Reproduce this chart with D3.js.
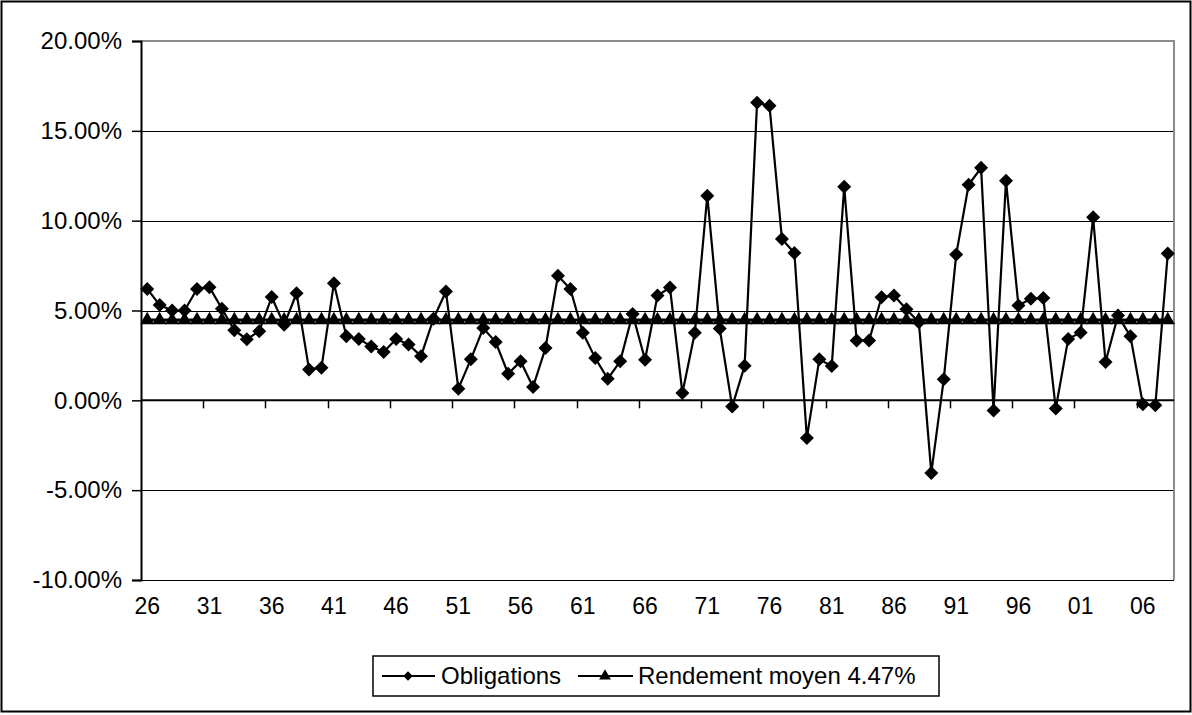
<!DOCTYPE html>
<html>
<head>
<meta charset="utf-8">
<script src="https://cdn.jsdelivr.net/npm/d3@7"></script>
<style>
  html, body { margin: 0; padding: 0; background: #fff; }
  svg { display: block; font-family: "Liberation Sans", Arial, sans-serif; }
</style>
</head>
<body>
<svg id="chart" width="1192" height="715"></svg>
<script>
// ---- Data (years 1926-2008) ----
const years = ["26","27","28","29","30","31","32","33","34","35","36","37","38","39","40","41","42","43","44","45",
  "46","47","48","49","50","51","52","53","54","55","56","57","58","59","60","61","62","63","64","65",
  "66","67","68","69","70","71","72","73","74","75","76","77","78","79","80","81","82","83","84","85",
  "86","87","88","89","90","91","92","93","94","95","96","97","98","99","00","01","02","03","04","05",
  "06","07","08"];
const obligations = [6.2,5.3,5.0,5.0,6.2,6.3,5.1,3.9,3.4,3.85,5.75,4.2,5.96,1.72,1.81,6.52,3.56,3.42,3.0,2.69,
  3.42,3.11,2.46,4.54,6.06,0.65,2.28,4.02,3.24,1.48,2.17,0.74,2.91,6.94,6.2,3.76,2.35,1.2,2.17,4.81,
  2.26,5.83,6.28,0.41,3.76,11.39,4.0,-0.35,1.92,16.57,16.39,8.98,8.2,-2.09,2.28,1.91,11.89,3.33,3.33,5.74,
  5.83,5.07,4.35,-4.04,1.17,8.11,12.0,12.94,-0.56,12.22,5.28,5.65,5.7,-0.46,3.42,3.77,10.19,2.13,4.72,3.56,
  -0.22,-0.28,8.17];
const meanReturn = 4.47;
const moyenne = years.map(() => meanReturn);
const yTicks = [-10, -5, 0, 5, 10, 15, 20];
const xLabelEvery = 5;
const seriesNames = ["Obligations", "Rendement moyen 4.47%"];

// ---- Layout ----
const svg = d3.select("#chart");
const W = 1192, H = 715;
const plot = { left: 141, right: 1174, top: 41, bottom: 580 };
const FONT = 23;

svg.append("rect").attr("x", 1.5).attr("y", 1.5).attr("width", W - 3).attr("height", H - 5)
  .attr("fill", "#fff").attr("stroke", "#000").attr("stroke-width", 2);

const x = d3.scaleBand().domain(years).range([plot.left, plot.right]).paddingInner(0).paddingOuter(0);
const y = d3.scaleLinear().domain([-10, 20]).range([plot.bottom, plot.top]);
const cx = d => x(d) + x.bandwidth() / 2;

// gridlines
svg.append("g").selectAll("line").data(yTicks.filter(t => t < 20)).join("line")
  .attr("x1", plot.left).attr("x2", plot.right)
  .attr("y1", d => Math.round(y(d)) + 0.5).attr("y2", d => Math.round(y(d)) + 0.5)
  .attr("stroke", "#000").attr("stroke-width", 1);

// plot border top/right (gray)
svg.append("path")
  .attr("d", `M${plot.left},${plot.top} H${plot.right} V${plot.bottom}`)
  .attr("fill", "none").attr("stroke", "#8c8c8c").attr("stroke-width", 2);

// y axis
const fmt = d => d.toFixed(2) + "%";
const yAxis = d3.axisLeft(y).tickValues(yTicks).tickSize(9).tickPadding(10).tickFormat(fmt);
const gy = svg.append("g").attr("transform", `translate(${plot.left},0)`).call(yAxis);
gy.select(".domain").attr("stroke", "#000").attr("stroke-width", 2);
gy.selectAll(".tick line").attr("stroke", "#000").attr("stroke-width", 1.5);
gy.selectAll("text").attr("font-size", FONT + 1).attr("fill", "#000")
  .attr("font-family", "Liberation Sans, Arial, sans-serif");

// x axis at 0%
const boundaries = years.filter((d, i) => i > 0 && i % xLabelEvery === 0);
const gx = svg.append("g");
gx.append("line").attr("x1", plot.left).attr("x2", plot.right)
  .attr("y1", y(0)).attr("y2", y(0)).attr("stroke", "#000").attr("stroke-width", 2);
gx.selectAll("line.tk").data(boundaries).join("line").attr("class", "tk")
  .attr("x1", d => Math.round(x(d)) + 0.5).attr("x2", d => Math.round(x(d)) + 0.5)
  .attr("y1", y(0)).attr("y2", y(0) + 8).attr("stroke", "#000").attr("stroke-width", 1.5);

// x labels at bottom
svg.append("g").selectAll("text").data(years.filter((d, i) => i % xLabelEvery === 0)).join("text")
  .attr("x", d => cx(d)).attr("y", 606).attr("dy", "0.35em")
  .attr("text-anchor", "middle").attr("font-size", FONT).attr("fill", "#000")
  .text(d => d);

// mean line + triangles
const lineGen = d3.line().x((d, i) => cx(years[i])).y(d => y(d));
svg.append("path").datum(moyenne).attr("d", lineGen)
  .attr("fill", "none").attr("stroke", "#000").attr("stroke-width", 3);
const tri = d3.symbol().type(d3.symbolTriangle).size(88);
svg.append("g").selectAll("path").data(moyenne).join("path")
  .attr("transform", (d, i) => `translate(${cx(years[i])},${y(d)})`)
  .attr("d", tri).attr("fill", "#000");

// obligations line + diamonds
svg.append("path").datum(obligations).attr("d", lineGen)
  .attr("fill", "none").attr("stroke", "#000").attr("stroke-width", 2.2).attr("stroke-linejoin", "round");
svg.append("g").selectAll("path").data(obligations).join("path")
  .attr("d", d3.symbol().type(d3.symbolSquare).size(98)())
  .attr("transform", (d, i) => `translate(${cx(years[i])},${y(d)}) rotate(45)`)
  .attr("fill", "#000");

// legend
const lg = svg.append("g");
lg.append("rect").attr("x", 373).attr("y", 656).attr("width", 566).attr("height", 40)
  .attr("fill", "#fff").attr("stroke", "#000").attr("stroke-width", 1.5);
const ly = 676;
lg.append("line").attr("x1", 382).attr("x2", 435).attr("y1", ly).attr("y2", ly)
  .attr("stroke", "#000").attr("stroke-width", 2);
lg.append("path").attr("transform", `translate(408,${ly}) rotate(45)`)
  .attr("d", d3.symbol().type(d3.symbolSquare).size(45)()).attr("fill", "#000");
lg.append("text").attr("x", 441).attr("y", ly).attr("dy", "0.35em")
  .attr("font-size", FONT + 1).attr("fill", "#000").text(seriesNames[0]);
lg.append("line").attr("x1", 578).attr("x2", 633).attr("y1", ly).attr("y2", ly)
  .attr("stroke", "#000").attr("stroke-width", 2);
lg.append("path").attr("transform", `translate(605,${ly})`)
  .attr("d", d3.symbol().type(d3.symbolTriangle).size(60)()).attr("fill", "#000");
lg.append("text").attr("x", 638).attr("y", ly).attr("dy", "0.35em")
  .attr("font-size", FONT + 1).attr("fill", "#000").text(seriesNames[1]);
</script>
</body>
</html>
